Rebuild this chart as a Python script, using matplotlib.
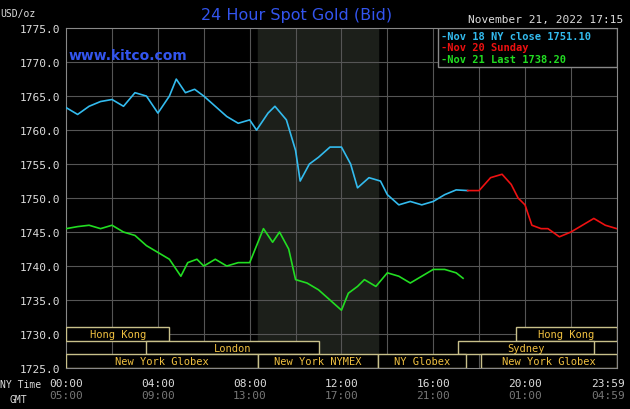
import matplotlib.pyplot as plt
from matplotlib.patches import Rectangle

# hours since 00:00 NY time and prices
nov18_hours = [0, 0.5, 1, 1.5, 2, 2.5, 3, 3.5, 4, 4.5, 4.8, 5.2, 5.6, 6, 6.5, 7, 7.5, 8, 8.3, 8.8,
               9.1, 9.6, 10, 10.2, 10.6, 11, 11.5, 12, 12.4, 12.7, 13.2, 13.7, 14, 14.5, 15, 15.5,
               16, 16.5, 17, 17.5]
nov18_price = [1763.3, 1762.3, 1763.5, 1764.2, 1764.5, 1763.5, 1765.5, 1765, 1762.5, 1765, 1767.5,
               1765.5, 1766, 1765, 1763.5, 1762, 1761, 1761.5, 1760, 1762.5, 1763.5, 1761.5, 1757,
               1752.5, 1755, 1756, 1757.5, 1757.5, 1755, 1751.5, 1753, 1752.5, 1750.5, 1749, 1749.5,
               1749, 1749.5, 1750.5, 1751.2, 1751.1]
nov20_hours = [17.5, 18, 18.5, 19, 19.4, 19.7, 20, 20.3, 20.7, 21, 21.5, 22, 22.5, 23, 23.5, 24]
nov20_price = [1751.1, 1751.1, 1753, 1753.5, 1752, 1750, 1749, 1746, 1745.5, 1745.5, 1744.3, 1745,
               1746, 1747, 1746, 1745.5]
nov21_hours = [0, 0.5, 1, 1.5, 2, 2.5, 3, 3.5, 4, 4.5, 5, 5.3, 5.7, 6, 6.5, 7, 7.5, 8, 8.3, 8.6, 9,
               9.3, 9.7, 10, 10.5, 11, 11.5, 12, 12.3, 12.7, 13, 13.5, 14, 14.5, 15, 15.5, 16, 16.5,
               17, 17.3]
nov21_price = [1745.5, 1745.8, 1746, 1745.5, 1746, 1745, 1744.5, 1743, 1742, 1741, 1738.5, 1740.5,
               1741, 1740, 1741, 1740, 1740.5, 1740.5, 1743, 1745.5, 1743.5, 1745, 1742.5, 1738,
               1737.5, 1736.5, 1735, 1733.5, 1736, 1737, 1738, 1737, 1739, 1738.5, 1737.5, 1738.5,
               1739.5, 1739.5, 1739, 1738.2]

# (label, start, end, row)
sessions = [("Hong Kong", 0, 4.5, 2), ("Hong Kong", 19.6, 24, 2),
            ("London", 3.5, 11.0, 1), ("Sydney", 17.1, 23.0, 1),
            ("New York Globex", 0, 8.36, 0), ("New York NYMEX", 8.36, 13.6, 0),
            ("NY Globex", 13.6, 17.45, 0), ("New York Globex", 18.1, 24, 0)]
ny_labels = ["00:00", "04:00", "08:00", "12:00", "16:00", "20:00", "23:59"]
gmt_labels = ["05:00", "09:00", "13:00", "17:00", "21:00", "01:00", "04:59"]
tick_hours = [0, 4, 8, 12, 16, 20, 24]

mono = "DejaVu Sans Mono"
fig = plt.figure(figsize=(6.3, 4.1), dpi=100, facecolor="black")
ax = fig.add_axes([0.105, 0.1, 0.874, 0.829], facecolor="black")
ax.set_xlim(0, 24)
ax.set_ylim(1725, 1775)

ax.axvspan(8.36, 13.6, color="#1c1f1a", zorder=0)
for h in range(2, 24, 2):
    ax.axvline(h, color="#555555", lw=0.8, zorder=1)
for p in range(1730, 1775, 5):
    ax.axhline(p, color="#555555", lw=0.8, zorder=1)

row_h = 2.0
for label, s, e, r in sessions:
    y0 = 1725 + r * row_h
    ax.add_patch(Rectangle((s, y0), e - s, row_h, facecolor="black", edgecolor="#c8c08a",
                           lw=1, zorder=3))
    ax.text((s + e) / 2, y0 + row_h / 2, label, color="#f0c040", fontsize=7.5,
            family=mono, ha="center", va="center", zorder=4)

ax.plot(nov18_hours, nov18_price, color="#33bbee", lw=1.2, zorder=5)
ax.plot(nov20_hours, nov20_price, color="#ee1111", lw=1.2, zorder=5)
ax.plot(nov21_hours, nov21_price, color="#22dd22", lw=1.2, zorder=5)

# legend box
ax.add_patch(Rectangle((16.2, 1769.3), 7.8, 5.7, facecolor="black", edgecolor="#888888",
                       lw=1, zorder=6))
leg = [("-Nov 18 NY close 1751.10", "#33bbee"), ("-Nov 20 Sunday", "#ee1111"),
       ("-Nov 21 Last 1738.20", "#22dd22")]
for i, (t, c) in enumerate(leg):
    ax.text(16.35, 1773.9 - i * 1.75, t, color=c, fontsize=7.5, family=mono,
            fontweight="bold", va="center", zorder=7)

ax.set_yticks(range(1725, 1776, 5))
ax.set_yticklabels([f"{p}.0" for p in range(1725, 1776, 5)], family=mono, fontsize=8,
                   color="#dddddd")
ax.set_xticks([])
ax.tick_params(axis="y", length=0, pad=4)
for sp in ax.spines.values():
    sp.set_color("#888888")

for h, ny, gmt in zip(tick_hours, ny_labels, gmt_labels):
    ha = "right" if h == 24 else "center"
    xx = 24.35 if h == 24 else h
    ax.text(xx, -0.045, ny, transform=ax.get_xaxis_transform(), color="#dddddd",
            fontsize=8, family=mono, ha=ha, va="center")
    ax.text(xx, -0.08, gmt, transform=ax.get_xaxis_transform(), color="#777777",
            fontsize=8, family=mono, ha=ha, va="center")
fig.text(0.0, 0.062, "NY Time", color="#dddddd", fontsize=7, family=mono, va="center")
fig.text(0.015, 0.025, "GMT", color="#dddddd", fontsize=7, family=mono, va="center")

fig.text(0.0, 0.965, "USD/oz", color="#dddddd", fontsize=7, family=mono, va="center")
fig.text(0.47, 0.962, "24 Hour Spot Gold (Bid)", color="#3355ee", fontsize=11.5,
         ha="center", va="center")
fig.text(0.99, 0.952, "November 21, 2022 17:15", color="#dddddd", fontsize=8, family=mono,
         ha="right", va="center")
ax.text(0.005, 0.92, "www.kitco.com", transform=ax.transAxes, color="#3355ee", fontsize=10,
        fontweight="bold", va="center", zorder=7)

fig.savefig("out.png", dpi=100, facecolor="black")
